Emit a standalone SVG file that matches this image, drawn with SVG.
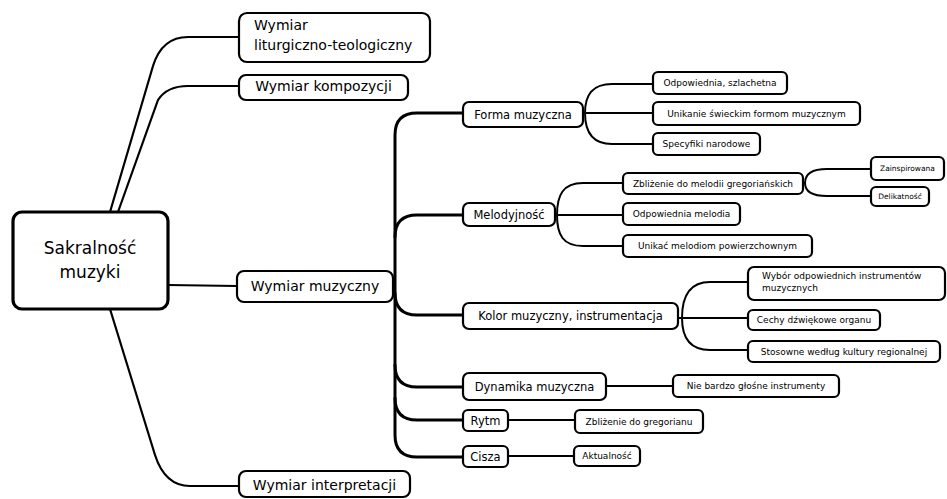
<svg xmlns="http://www.w3.org/2000/svg" width="947" height="499" viewBox="0 0 947 499">
<style>
  .bg{fill:#ffffff}
  .box{fill:#ffffff;stroke:#000000;stroke-width:2.2}
  .root{fill:#ffffff;stroke:#000000;stroke-width:3.2}
  .c1{fill:none;stroke:#000000;stroke-width:2.2;stroke-linecap:round}
  .c2{fill:none;stroke:#000000;stroke-width:3;stroke-linecap:round}
  .c3{fill:none;stroke:#000000;stroke-width:2;stroke-linecap:round}
  text{font-family:"DejaVu Sans","Noto Sans",sans-serif;fill:#000000}
  .t0{font-size:17px;text-anchor:middle}
  .t1{font-size:14px}
  .t1m{font-size:14px;text-anchor:middle}
  .t2{font-size:11.5px;text-anchor:middle}
  .t3{font-size:9px;text-anchor:middle}
  .t3s{font-size:9px}
  .t4{font-size:7.5px;text-anchor:middle}
</style>
<rect class="bg" x="0" y="0" width="947" height="499"/>
<g id="connectors">
  <!-- root to level 1 -->
  <path class="c1" d="M110 212 L153 66 Q162 37 188 37 L239 37"/>
  <path class="c1" d="M118 212 L158 100 Q167 86 188 86 L239 86"/>
  <path class="c1" d="M168 285 L237 286"/>
  <path class="c1" d="M110 309 L155 455 Q165 486 190 486 L239 486"/>
  <!-- Wymiar muzyczny trunk -->
  <path class="c2" d="M463 113 L417 113 Q395 113 395 135 L395 435 Q395 457 417 457 L463 457"/>
  <path class="c2" d="M395 237 Q395 215 417 215 L463 215"/>
  <path class="c2" d="M395 293 Q395 315 417 315 L463 315"/>
  <path class="c2" d="M395 365 Q395 387 417 387 L463 387"/>
  <path class="c2" d="M395 398 Q395 420 417 420 L463 420"/>
  <!-- Forma muzyczna children -->
  <path class="c3" d="M583 113 L653 113"/>
  <path class="c3" d="M585 113 C585 95 592 84 612 84 L653 84"/>
  <path class="c3" d="M585 113 C585 131 592 144 612 144 L653 144"/>
  <!-- Melodyjnosc children -->
  <path class="c3" d="M555 215 L623 215"/>
  <path class="c3" d="M557 215 C557 195 563 183 583 183 L623 183"/>
  <path class="c3" d="M557 215 C557 235 563 246 583 246 L623 246"/>
  <!-- Zblizenie children -->
  <path class="c3" d="M805 183 C805 174 812 169 827 169 L871 169"/>
  <path class="c3" d="M805 183 C805 192 812 196 827 196 L871 196"/>
  <!-- Kolor children -->
  <path class="c3" d="M678 318 L748 318"/>
  <path class="c3" d="M682 318 C682 295 690 282 710 282 L748 282"/>
  <path class="c3" d="M682 318 C682 338 690 350 710 350 L748 350"/>
  <!-- single children -->
  <path class="c3" d="M606 386 L673 386"/>
  <path class="c3" d="M508 420 L575 420"/>
  <path class="c3" d="M508 456 L574 456"/>
</g>
<g id="root">
  <rect class="root" x="13" y="212" width="155" height="97" rx="9"/>
  <text class="t0" x="90" y="254">Sakralność</text>
  <text class="t0" x="90" y="278">muzyki</text>
</g>
<g id="n-liturgiczno">
  <rect class="box" x="239" y="13" width="191" height="49" rx="8"/>
  <text class="t1" x="254" y="30">Wymiar</text>
  <text class="t1" x="254" y="50">liturgiczno-teologiczny</text>
</g>
<g id="n-kompozycji">
  <rect class="box" x="239" y="75" width="169" height="25" rx="7"/>
  <text class="t1m" x="323.5" y="91">Wymiar kompozycji</text>
</g>
<g id="n-muzyczny">
  <rect class="box" x="237" y="271" width="156" height="31" rx="7"/>
  <text class="t1m" x="315" y="291">Wymiar muzyczny</text>
</g>
<g id="n-interpretacji">
  <rect class="box" x="239" y="471" width="171" height="26" rx="7"/>
  <text class="t1m" x="324.5" y="490">Wymiar interpretacji</text>
</g>
<g id="n-forma">
  <rect class="box" x="463" y="102" width="120" height="25" rx="6"/>
  <text class="t2" x="523" y="118.5">Forma muzyczna</text>
</g>
<g id="n-melodyjnosc">
  <rect class="box" x="463" y="203" width="92" height="23" rx="6"/>
  <text class="t2" x="509" y="218.5">Melodyjność</text>
</g>
<g id="n-kolor">
  <rect class="box" x="463" y="303" width="215" height="26" rx="6"/>
  <text class="t2" x="570.5" y="320">Kolor muzyczny, instrumentacja</text>
</g>
<g id="n-dynamika">
  <rect class="box" x="463" y="373" width="143" height="27" rx="6"/>
  <text class="t2" x="534.5" y="390.5">Dynamika muzyczna</text>
</g>
<g id="n-rytm">
  <rect class="box" x="463" y="410" width="45" height="21" rx="5"/>
  <text class="t2" x="485.5" y="424.5">Rytm</text>
</g>
<g id="n-cisza">
  <rect class="box" x="463" y="446" width="45" height="21" rx="5"/>
  <text class="t2" x="485.5" y="460.5">Cisza</text>
</g>
<g id="n-szlachetna">
  <rect class="box" x="653" y="72" width="134" height="22" rx="5"/>
  <text class="t3" x="720" y="86.2">Odpowiednia, szlachetna</text>
</g>
<g id="n-unikanie">
  <rect class="box" x="653" y="102" width="207" height="23" rx="5"/>
  <text class="t3" x="756.5" y="116.7">Unikanie świeckim formom muzycznym</text>
</g>
<g id="n-specyfiki">
  <rect class="box" x="653" y="133" width="107" height="22" rx="5"/>
  <text class="t3" x="706.5" y="147.2">Specyfiki narodowe</text>
</g>
<g id="n-zblizenie-melodii">
  <rect class="box" x="623" y="173" width="180" height="21" rx="5"/>
  <text class="t3" x="713" y="186.7">Zbliżenie do melodii gregoriańskich</text>
</g>
<g id="n-odp-melodia">
  <rect class="box" x="623" y="203" width="117" height="22" rx="5"/>
  <text class="t3" x="681.5" y="217.2">Odpowiednia melodia</text>
</g>
<g id="n-unikac">
  <rect class="box" x="623" y="235" width="189" height="22" rx="5"/>
  <text class="t3" x="717.5" y="249.2">Unikać melodiom powierzchownym</text>
</g>
<g id="n-zainspirowana">
  <rect class="box" x="871" y="157" width="73" height="23" rx="5"/>
  <text class="t4" x="907.5" y="171.1">Zainspirowana</text>
</g>
<g id="n-delikatnosc">
  <rect class="box" x="871" y="187" width="58" height="19" rx="5"/>
  <text class="t4" x="900" y="199.1">Delikatność</text>
</g>
<g id="n-wybor">
  <rect class="box" x="748" y="267" width="197" height="33" rx="6"/>
  <text class="t3s" x="762" y="279">Wybór odpowiednich instrumentów</text>
  <text class="t3s" x="762" y="291">muzycznych</text>
</g>
<g id="n-cechy">
  <rect class="box" x="748" y="310" width="132" height="20" rx="5"/>
  <text class="t3" x="814" y="323.2">Cechy dźwiękowe organu</text>
</g>
<g id="n-stosowne">
  <rect class="box" x="748" y="341" width="192" height="21" rx="5"/>
  <text class="t3" x="844" y="354.7">Stosowne według kultury regionalnej</text>
</g>
<g id="n-nie-bardzo">
  <rect class="box" x="673" y="375" width="166" height="22" rx="5"/>
  <text class="t3" x="756" y="389.2">Nie bardzo głośne instrumenty</text>
</g>
<g id="n-zblizenie-gregorianu">
  <rect class="box" x="575" y="410" width="128" height="23" rx="5"/>
  <text class="t3" x="639" y="424.7">Zbliżenie do gregorianu</text>
</g>
<g id="n-aktualnosc">
  <rect class="box" x="574" y="446" width="66" height="20" rx="5"/>
  <text class="t3" x="607" y="459.2">Aktualność</text>
</g>
</svg>
